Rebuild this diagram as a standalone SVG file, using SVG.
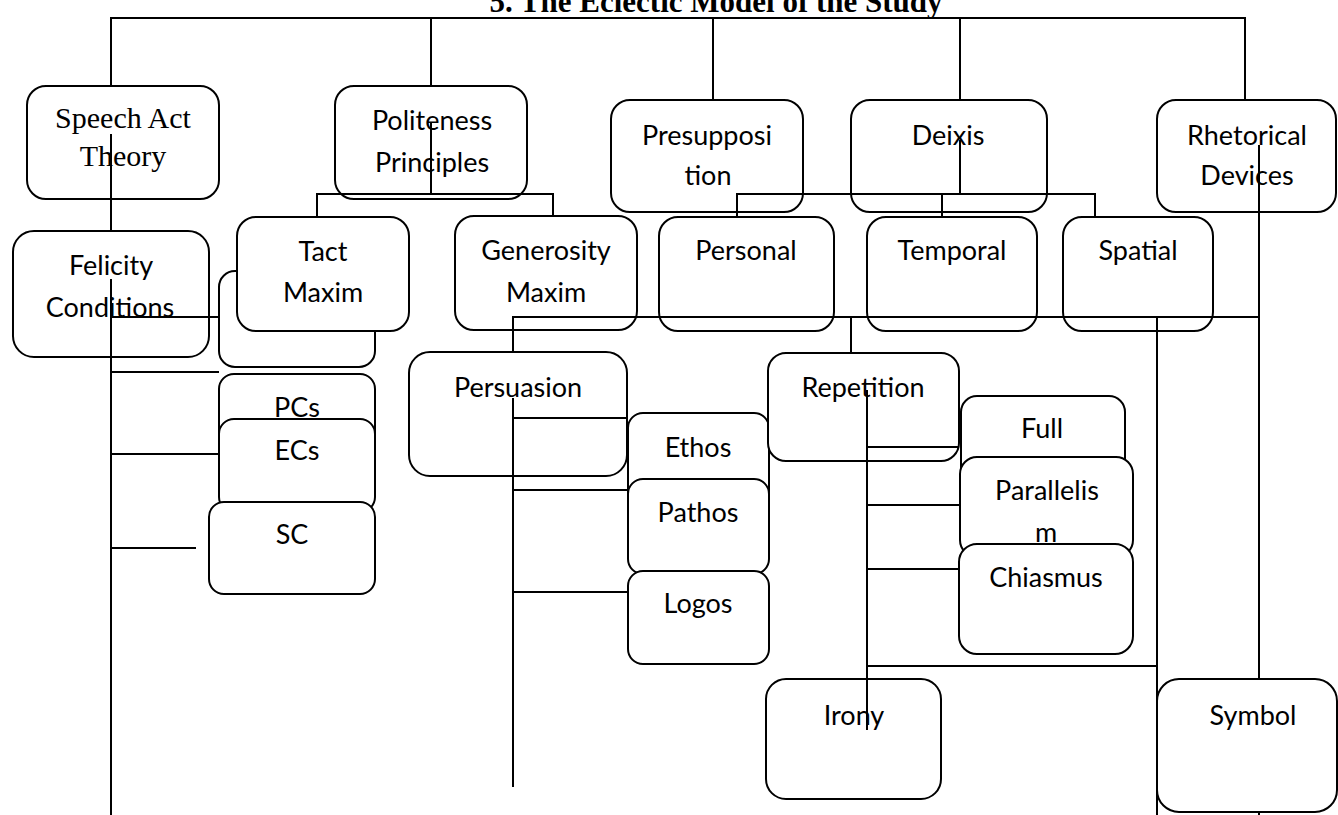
<svg xmlns="http://www.w3.org/2000/svg" width="1338" height="815" viewBox="0 0 1338 815">
<style>
.box{fill:#fff;stroke:#000;stroke-width:2}
.t{font-family:Lato,"Noto Sans",sans-serif;font-size:27px;text-anchor:middle;fill:#000}
.s{font-family:"Liberation Serif","Times New Roman",serif;font-size:30px;text-anchor:middle;fill:#000}
.title{font-family:"Liberation Serif","Times New Roman",serif;font-size:31px;font-weight:bold;text-anchor:middle;fill:#000}
.ln{stroke:#000;stroke-width:2;fill:none}
</style>
<rect width="1338" height="815" fill="#fff"/>
<text class="title" x="716" y="12">5. The Eclectic Model of the Study</text>

<g id="speech-act-theory"><rect class="box" x="27" y="86" width="192" height="113" rx="19"/><text class="s" x="123" y="128">Speech Act</text><text class="s" x="123" y="166">Theory</text></g>
<g id="politeness-principles"><rect class="box" x="335" y="86" width="192" height="113" rx="19"/><text class="t" x="432" y="130">Politeness</text><text class="t" x="432" y="172">Principles</text></g>
<g id="presupposition"><rect class="box" x="611" y="100" width="192" height="112" rx="19"/><text class="t" x="707" y="145">Presupposi</text><text class="t" x="708" y="185">tion</text></g>
<g id="deixis"><rect class="box" x="851" y="100" width="196" height="112" rx="19"/><text class="t" x="948" y="145">Deixis</text></g>
<g id="rhetorical-devices"><rect class="box" x="1157" y="100" width="179" height="112" rx="19"/><text class="t" x="1247" y="145">Rhetorical</text><text class="t" x="1247" y="185">Devices</text></g>

<g id="felicity-conditions"><rect class="box" x="13" y="231" width="196" height="126" rx="21"/><text class="t" x="111" y="275">Felicity</text><text class="t" x="110" y="317">Conditions</text></g>
<g id="tact-sub"><rect class="box" x="219" y="271" width="156" height="96" rx="16"/></g>
<g id="tact-maxim"><rect class="box" x="237" y="217" width="172" height="114" rx="19"/><text class="t" x="323" y="261">Tact</text><text class="t" x="323" y="302">Maxim</text></g>
<g id="generosity-maxim"><rect class="box" x="455" y="216" width="182" height="114" rx="19"/><text class="t" x="546" y="260">Generosity</text><text class="t" x="546" y="302">Maxim</text></g>
<g id="personal"><rect class="box" x="659" y="217" width="175" height="114" rx="19"/><text class="t" x="746" y="260">Personal</text></g>
<g id="temporal"><rect class="box" x="867" y="217" width="170" height="114" rx="19"/><text class="t" x="952" y="260">Temporal</text></g>
<g id="spatial"><rect class="box" x="1063" y="217" width="150" height="114" rx="19"/><text class="t" x="1138" y="260">Spatial</text></g>

<g id="pcs"><rect class="box" x="219" y="374" width="156" height="92" rx="15"/><text class="t" x="297" y="417">PCs</text></g>
<g id="ecs"><rect class="box" x="219" y="419" width="156" height="93" rx="15"/><text class="t" x="297" y="460">ECs</text></g>
<g id="sc"><rect class="box" x="209" y="502" width="166" height="92" rx="15"/><text class="t" x="292" y="544">SC</text></g>

<g id="persuasion"><rect class="box" x="409" y="352" width="218" height="124" rx="21"/><text class="t" x="518" y="397">Persuasion</text></g>
<g id="ethos"><rect class="box" x="628" y="413" width="141" height="93" rx="15"/><text class="t" x="698" y="457">Ethos</text></g>
<g id="pathos"><rect class="box" x="628" y="479" width="141" height="95" rx="15"/><text class="t" x="698" y="522">Pathos</text></g>
<g id="logos"><rect class="box" x="628" y="571" width="141" height="93" rx="15"/><text class="t" x="698" y="613">Logos</text></g>

<g id="repetition"><rect class="box" x="768" y="353" width="191" height="108" rx="18"/><text class="t" x="863" y="397">Repetition</text></g>
<g id="full"><rect class="box" x="961" y="396" width="164" height="94" rx="16"/><text class="t" x="1042" y="438">Full</text></g>
<g id="parallelism"><rect class="box" x="960" y="457" width="173" height="100" rx="17"/><text class="t" x="1047" y="500">Parallelis</text><text class="t" x="1046" y="542">m</text></g>
<g id="chiasmus"><rect class="box" x="959" y="544" width="174" height="110" rx="18"/><text class="t" x="1046" y="587">Chiasmus</text></g>

<g id="irony"><rect class="box" x="766" y="679" width="175" height="120" rx="20"/><text class="t" x="854" y="725">Irony</text></g>
<g id="symbol"><rect class="box" x="1157" y="679" width="180" height="133" rx="22"/><text class="t" x="1253" y="725">Symbol</text></g>

<g id="connectors" class="ln">
<path d="M111 86V18H1245V100M431 18V86M713 18V100M960 18V100"/>
<path d="M111 134V231M111 279V815"/>
<path d="M111 317H219M111 372H219M111 454H219M111 548H196"/>
<path d="M431 122V194M317 216V194H553V216"/>
<path d="M960 140V194M737 216V194H1095V216M942 194V216"/>
<path d="M1259 145V679M1259 812V815"/>
<path d="M513 352V317H1259M851 317V353M1157 317V815"/>
<path d="M513 398V787M513 418H627M513 490H628M513 592H628"/>
<path d="M867 390V730M867 447H959M867 505H960M867 569H959M867 666H1157"/>
</g>
</svg>
